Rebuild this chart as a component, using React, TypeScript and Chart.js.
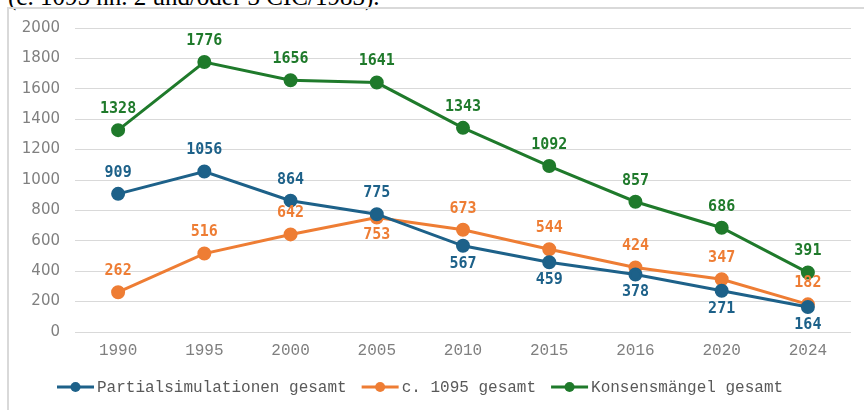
import React, { useEffect, useRef } from "react";
import { Chart, registerables } from "chart.js";

Chart.register(...registerables);

const categories = ["1990", "1995", "2000", "2005", "2010", "2015", "2016", "2020", "2024"];
const partialValues = [909, 1056, 864, 775, 567, 459, 378, 271, 164];
const c1095Values = [262, 516, 642, 753, 673, 544, 424, 347, 182];
const konsensValues = [1328, 1776, 1656, 1641, 1343, 1092, 857, 686, 391];
// label side per point: "a" above, "b" below
const partialLabelPos = ["a", "a", "a", "a", "b", "b", "b", "b", "b"];
const c1095LabelPos = ["a", "a", "a", "b", "a", "a", "a", "a", "a"];
const konsensLabelPos = ["a", "a", "a", "a", "a", "a", "a", "a", "a"];
const seriesNames = ["Partialsimulationen gesamt", "c. 1095 gesamt", "Konsensmängel gesamt"];
const yTicks = [0, 200, 400, 600, 800, 1000, 1200, 1400, 1600, 1800, 2000];

const BLUE = "#1d6189";
const ORANGE = "#ee7d34";
const GREEN = "#1f7a2b";
const labelPositions = [partialLabelPos, c1095LabelPos, konsensLabelPos];

const dataLabelPlugin = {
  id: "dataLabels",
  afterDatasetsDraw(chart: any) {
    const ctx = chart.ctx;
    ctx.save();
    ctx.font = "bold 15px 'DejaVu Sans Mono'";
    ctx.textAlign = "center";
    ctx.textBaseline = "middle";
    chart.data.datasets.forEach((ds: any, i: number) => {
      const meta = chart.getDatasetMeta(i);
      ctx.fillStyle = ds.borderColor;
      meta.data.forEach((pt: any, j: number) => {
        const pos = labelPositions[i][j];
        const dy = pos === "a" ? -21 : 18;
        ctx.fillText(String(ds.data[j]), pt.x, pt.y + dy);
      });
    });
    ctx.restore();
  },
};

const legendPlugin = {
  id: "customLegend",
  afterDraw(chart: any) {
    const ctx = chart.ctx;
    ctx.save();
    ctx.font = "16px 'Liberation Mono'";
    ctx.textBaseline = "middle";
    ctx.textAlign = "left";
    const y = 387;
    let x = 57;
    chart.data.datasets.forEach((ds: any) => {
      ctx.strokeStyle = ds.borderColor;
      ctx.lineWidth = 3;
      ctx.beginPath();
      ctx.moveTo(x, y);
      ctx.lineTo(x + 37, y);
      ctx.stroke();
      ctx.fillStyle = ds.borderColor;
      ctx.beginPath();
      ctx.arc(x + 18.5, y, 5, 0, Math.PI * 2);
      ctx.fill();
      ctx.fillStyle = "#595959";
      ctx.fillText(ds.label, x + 40, y + 1);
      x += 40 + ctx.measureText(ds.label).width + 15;
    });
    ctx.restore();
  },
};

export default function App() {
  const ref = useRef<HTMLCanvasElement>(null);
  useEffect(() => {
    if (!ref.current) return;
    const mk = (label: string, data: number[], color: string) => ({
      label,
      data,
      borderColor: color,
      backgroundColor: color,
      borderWidth: 3,
      pointRadius: 5.5,
      pointBackgroundColor: color,
      pointBorderColor: color,
      tension: 0,
    });
    const chart = new Chart(ref.current, {
      type: "line",
      data: {
        labels: categories,
        datasets: [
          mk(seriesNames[0], partialValues, BLUE),
          mk(seriesNames[1], c1095Values, ORANGE),
          mk(seriesNames[2], konsensValues, GREEN),
        ],
      },
      options: {
        animation: false,
        responsive: false,
        layout: { padding: { left: 0, right: 13, top: 28, bottom: 0 } },
        plugins: { legend: { display: false }, tooltip: { enabled: false } },
        scales: {
          x: {
            offset: true,
            grid: { display: false, drawTicks: false },
            border: { display: false },
            ticks: { color: "#7f7f7f", font: { family: "'Liberation Mono'", size: 16 }, padding: 9 },
            afterFit: (s: any) => { s.height = 78; },
          },
          y: {
            min: 0,
            max: 2000,
            afterBuildTicks: (s: any) => { s.ticks = yTicks.map((v) => ({ value: v })); },
            grid: { color: "#d9d9d9", lineWidth: 1, drawTicks: false },
            border: { display: false },
            ticks: {
              color: "#808080",
              font: { family: "'DejaVu Sans'", size: 15 },
              padding: 15,
              callback: (v: any) => String(v),
            },
            afterFit: (s: any) => { s.width = 75; },
          },
        },
      },
      plugins: [dataLabelPlugin, legendPlugin],
    });
    return () => chart.destroy();
  }, []);
  return (
    <div style={{ position: "fixed", left: 0, top: 0, width: 864, height: 410, overflow: "hidden", background: "#fff" }}>
      <div style={{ position: "absolute", left: 8, top: -16, fontFamily: "'Liberation Serif'", fontSize: 25, lineHeight: "25px", whiteSpace: "nowrap", color: "#000" }}>
        (c. 1095 nn. 2 und/oder 3 CIC/1983).
      </div>
      <div style={{ position: "absolute", left: 7, top: 7, width: 900, height: 500, borderLeft: "2px solid #d9d9d9", borderTop: "2px solid #d9d9d9" }} />
      <canvas ref={ref} width={864} height={410} style={{ position: "absolute", left: 0, top: 0, width: 864, height: 410 }} />
    </div>
  );
}
